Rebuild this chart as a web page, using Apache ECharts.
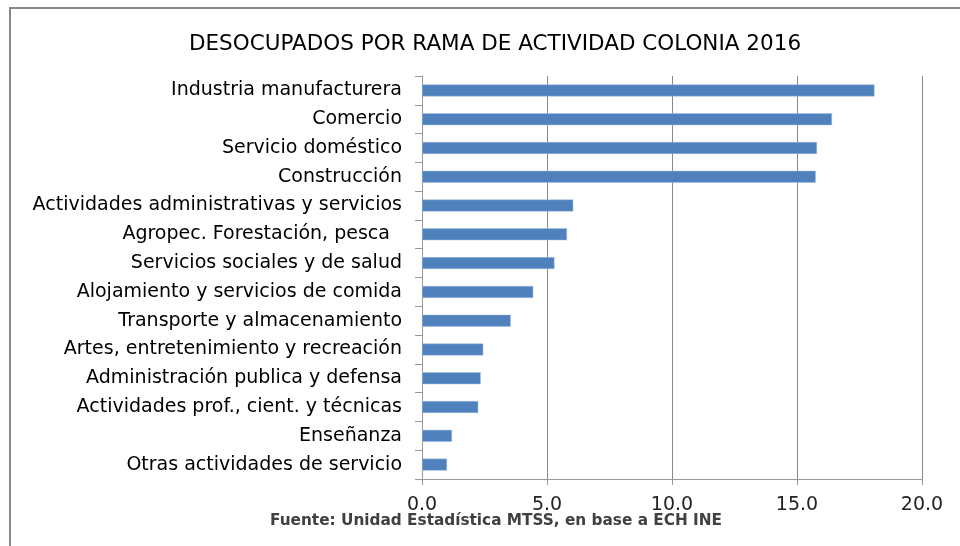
<!DOCTYPE html>
<html>
<head>
    <meta charset="utf-8">
    <title>Desocupados por rama</title>
    <script src="https://cdn.jsdelivr.net/npm/echarts@6/dist/echarts.min.js"></script>
    <style type="text/css">
        html, body { margin: 0; padding: 0; background: #fff; }
        #main { width: 960px; height: 546px; }
    </style>
</head>
<body>
<div id="main"></div>
<script type="text/javascript">
    // ramas de actividad, de arriba hacia abajo
    var ramas = [
        'Industria manufacturera',
        'Comercio',
        'Servicio doméstico',
        'Construcción',
        'Actividades administrativas y servicios',
        'Agropec. Forestación, pesca  ',
        'Servicios sociales y de salud',
        'Alojamiento y servicios de comida',
        'Transporte y almacenamiento',
        'Artes, entretenimiento y recreación',
        'Administración publica y defensa',
        'Actividades prof., cient. y técnicas',
        'Enseñanza',
        'Otras actividades de servicio'
    ];
    var desocupados = [18.1, 16.4, 15.8, 15.75, 6.05, 5.8, 5.3, 4.45, 3.55, 2.45, 2.35, 2.25, 1.2, 1.0];
    var titulo = 'DESOCUPADOS POR RAMA DE ACTIVIDAD COLONIA 2016';
    var fuente = 'Fuente: Unidad Estadística MTSS, en base a ECH INE';

    var fontFam = '"DejaVu Sans", sans-serif';
    var myChart = echarts.init(document.getElementById('main'));

    var option = {
        backgroundColor: '#fff',
        animation: false,
        title: {
            text: titulo,
            left: 490,
            textAlign: 'center',
            top: 28,
            textStyle: { color: '#000', fontSize: 21.5, fontWeight: 'normal', fontFamily: fontFam }
        },
        graphic: [
            {
                type: 'rect',
                shape: { x: 10, y: 8, width: 1000, height: 600 },
                style: { fill: 'none', stroke: '#888', lineWidth: 2 }
            },
            {
                type: 'text',
                left: 270,
                top: 514,
                style: { text: fuente, fill: '#404040', font: 'bold 15.3px ' + fontFam }
            }
        ],
        grid: { left: 422, right: 38, top: 76, bottom: 67 },
        xAxis: {
            type: 'value',
            min: 0,
            max: 20,
            interval: 5,
            axisLine: { show: true, lineStyle: { color: '#999' } },
            axisTick: { show: true, length: 6, lineStyle: { color: '#999' } },
            axisLabel: {
                color: '#222', fontSize: 19, fontFamily: fontFam, margin: 17,
                formatter: function (v) { return v.toFixed(1); }
            },
            splitLine: { show: true, lineStyle: { color: '#888', width: 1 } }
        },
        yAxis: {
            type: 'category',
            inverse: true,
            data: ramas,
            axisLine: { show: true, lineStyle: { color: '#999' } },
            axisTick: { show: true, length: 7, lineStyle: { color: '#999' } },
            axisLabel: { color: '#000', fontSize: 19, fontFamily: fontFam, margin: 20 }
        },
        series: [{
            type: 'bar',
            data: desocupados,
            barWidth: 12,
            itemStyle: { color: '#4F81BD', borderColor: '#a9c1e0', borderWidth: 0.5 }
        }]
    };
    myChart.setOption(option);
</script>
</body>
</html>
